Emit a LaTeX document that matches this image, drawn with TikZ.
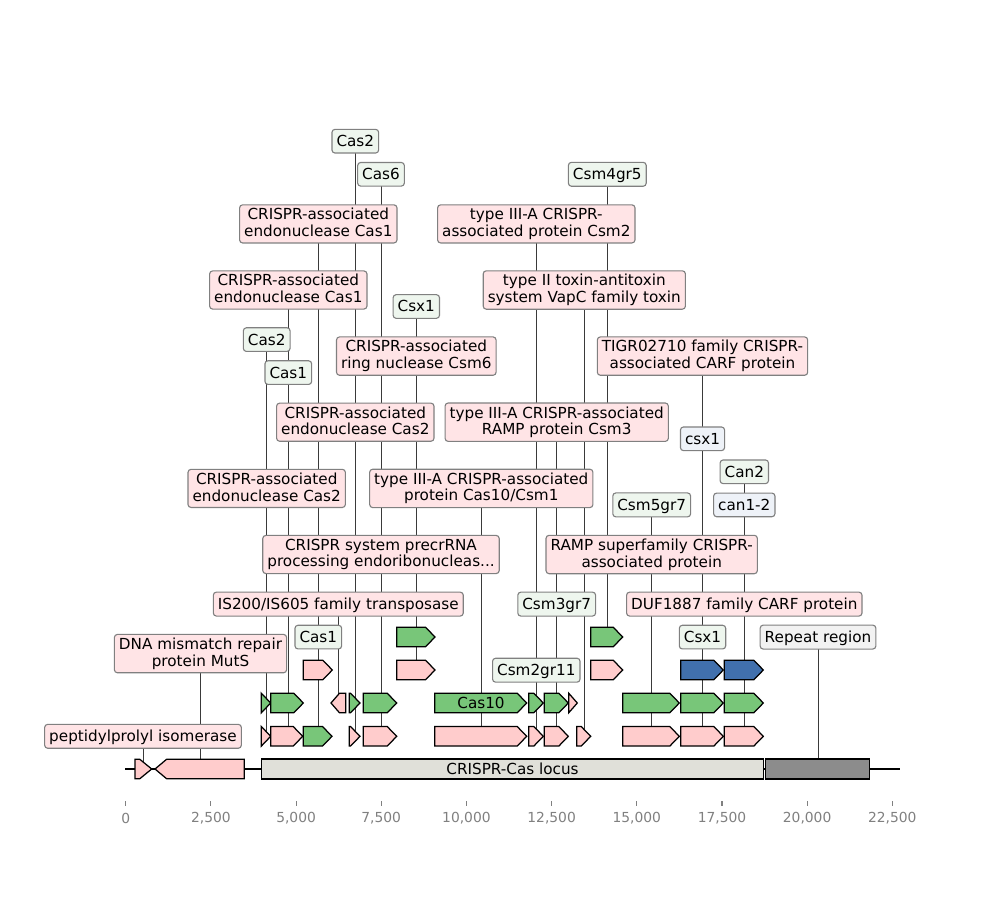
\documentclass[tikz,border=0pt]{standalone}
\usepackage{fontspec}
\setmainfont{DejaVu Sans}
\definecolor{fpink}{HTML}{FFCCCC}
\definecolor{fgreen}{HTML}{78C679}
\definecolor{fblue}{HTML}{4170AD}
\definecolor{locusgray}{HTML}{E0E0D9}
\definecolor{repgray}{HTML}{8C8C8C}
\definecolor{lpink}{HTML}{FFE4E6}
\definecolor{lgreen}{HTML}{EEF6EE}
\definecolor{lblue}{HTML}{EEF2F8}
\definecolor{lgray}{HTML}{F2F2F2}
\definecolor{lborder}{HTML}{808080}
\definecolor{conncol}{HTML}{3A3A3A}
\definecolor{tickcol}{HTML}{808080}
\pgfdeclarelayer{bglayer}
\pgfdeclarelayer{connlayer}
\pgfsetlayers{bglayer,connlayer,main}
\newcommand\lblstrut{\rule[-2.1pt]{0pt}{12.1pt}}
\tikzset{
  feat/.style={draw=black, line width=0.9pt, line join=miter},
  lbl/.style={draw=lborder, line width=0.8pt, rounded corners=2.2pt, inner xsep=3.3pt, inner ysep=2.5pt,
    align=center, font=\fontsize{11}{12.1}\selectfont, execute at begin node=\lblstrut, execute at end node=\lblstrut},
  lp/.style={lbl, fill=lpink},
  lg/.style={lbl, fill=lgreen},
  lb/.style={lbl, fill=lblue},
  lr/.style={lbl, fill=lgray},
  connline/.style={draw=conncol, line width=0.6pt},
  inlbl/.style={font=\fontsize{11}{12.1}\selectfont, inner sep=0pt},
}
\newcommand\featR[6]{%
  \pgfmathsetmacro\hx{max(#2,#3-#6)}%
  \draw[feat, fill=#5] (#2,#4-9.8) -- (\hx,#4-9.8) -- (#3,#4) -- (\hx,#4+9.8) -- (#2,#4+9.8) -- cycle;
  \coordinate (#1) at ({(#2+#3)/2},#4);
}
\newcommand\featL[6]{%
  \pgfmathsetmacro\hx{min(#3,#2+#6)}%
  \draw[feat, fill=#5] (#3,#4-9.8) -- (\hx,#4-9.8) -- (#2,#4) -- (\hx,#4+9.8) -- (#3,#4+9.8) -- cycle;
  \coordinate (#1) at ({(#2+#3)/2},#4);
}
\newcommand\joinlbl[2]{\draw[connline] (#1.center) -- (#1.center |- #2);}
\begin{document}
\begin{tikzpicture}[x=0.7227pt, y=-0.7227pt]
\begin{pgfonlayer}{bglayer}
\fill[white] (0,0) rectangle (1000,900);
\end{pgfonlayer}
\useasboundingbox (0,0) rectangle (1000,900);

% locus line
\coordinate (lineL) at (125,769);
\coordinate (lineR) at (900,769);
\draw[black, line width=1.4pt] (lineL) -- (lineR);

% bottom features
\featR{e1}{135}{151.7}{769}{fpink}{12}
\featL{e2}{155}{244.3}{769}{fpink}{11.7}
\draw[feat, fill=locusgray] (261.3,759) rectangle (763.7,779);
\coordinate (locus) at (512.5,769);
\node[inlbl] (locuslbl) at (locus) {CRISPR-Cas locus};
\draw[feat, fill=repgray] (765.7,759) rectangle (869.3,779);
\coordinate (rep) at (817.5,769);

% row 1
\featR{a1}{261.3}{270.7}{736.3}{fpink}{9.5}
\featR{a2}{270.7}{302.7}{736.3}{fpink}{9.5}
\featR{a3}{303.3}{332}{736.3}{fgreen}{9.5}
\featR{a4}{349.3}{360}{736.3}{fpink}{9.5}
\featR{a5}{363.3}{396.7}{736.3}{fpink}{9.5}
\featR{a6}{434.7}{526.7}{736.3}{fpink}{9.5}
\featR{a7}{528.7}{543.3}{736.3}{fpink}{9.5}
\featR{a8}{544.3}{568.3}{736.3}{fpink}{9.5}
\featR{a9}{576.7}{590.7}{736.3}{fpink}{9.5}
\featR{a10}{622.7}{679.3}{736.3}{fpink}{9.5}
\featR{a11}{680.7}{723.3}{736.3}{fpink}{9.5}
\featR{a12}{724.3}{763.3}{736.3}{fpink}{9.5}
% row 2
\featR{b1}{261.3}{270.7}{703}{fgreen}{9.5}
\featR{b2}{270.7}{303.3}{703}{fgreen}{9.5}
\featL{b3}{331}{345.7}{703}{fpink}{8.5}
\featR{b4}{349.3}{360}{703}{fgreen}{9.5}
\featR{b5}{363.3}{396.7}{703}{fgreen}{9.5}
\featR{b6}{434.7}{526.7}{703}{fgreen}{9.5}
\node[inlbl] (cas10) at (481,703) {Cas10};
\featR{b7}{528.7}{543.3}{703}{fgreen}{9.5}
\featR{b8}{544.3}{568.3}{703}{fgreen}{9.5}
\featR{b9}{568.7}{577.3}{703}{fpink}{9.5}
\featR{b10}{622.7}{679.3}{703}{fgreen}{9.5}
\featR{b11}{680.7}{723.3}{703}{fgreen}{9.5}
\featR{b12}{724.3}{763.3}{703}{fgreen}{9.5}
% row 3
\featR{c1}{303.3}{332.3}{670}{fpink}{9.5}
\featR{c2}{396.7}{435}{670}{fpink}{9.5}
\featR{c3}{590.7}{622.7}{670}{fpink}{9.5}
\featR{c4}{680.7}{723.3}{670}{fblue}{9.5}
\featR{c5}{724.3}{763.3}{670}{fblue}{9.5}
% row 4
\featR{d1}{396.7}{435}{637}{fgreen}{9.5}
\featR{d2}{590.7}{622.7}{637}{fgreen}{9.5}

% labels
\node[lp] (L1) at (318.3,223.9) {CRISPR-associated\\endonuclease Cas1};
\node[lp] (L2) at (536.3,223.9) {type III-A CRISPR-\\associated protein Csm2};
\node[lp] (L3) at (288.3,290.0) {CRISPR-associated\\endonuclease Cas1};
\node[lp] (L4) at (584.3,290.0) {type II toxin-antitoxin\\system VapC family toxin};
\node[lp] (L5) at (416.3,356.1) {CRISPR-associated\\ring nuclease Csm6};
\node[lp] (L6) at (702.5,356.1) {TIGR02710 family CRISPR-\\associated CARF protein};
\node[lp] (L7) at (355.3,422.2) {CRISPR-associated\\endonuclease Cas2};
\node[lp] (L8) at (556.7,422.2) {type III-A CRISPR-associated\\RAMP protein Csm3};
\node[lp] (L9) at (266.7,488.4) {CRISPR-associated\\endonuclease Cas2};
\node[lp] (L10) at (481.3,488.4) {type III-A CRISPR-associated\\protein Cas10/Csm1};
\node[lp] (L11) at (381,554.5) {CRISPR system precrRNA\\processing endoribonucleas...};
\node[lp] (L12) at (651.7,554.5) {RAMP superfamily CRISPR-\\associated protein};
\node[lp] (L13) at (338.3,604.1) {IS200/IS605 family transposase};
\node[lp] (L14) at (744.3,604.1) {DUF1887 family CARF protein};
\node[lp] (L15) at (200.5,653.6) {DNA mismatch repair\\protein MutS};
\node[lp] (L16) at (143,736.3) {peptidylprolyl isomerase};

\node[lg] (G1) at (355.3,141.2) {Cas2};
\node[lg] (G2) at (381,174.3) {Cas6};
\node[lg] (G3) at (607.3,174.3) {Csm4gr5};
\node[lg] (G4) at (416.3,306.5) {Csx1};
\node[lg] (G5) at (266.7,339.6) {Cas2};
\node[lg] (G6) at (288.3,372.6) {Cas1};
\node[lg] (G7) at (744.3,471.8) {Can2};
\node[lg] (G8) at (651.7,504.9) {Csm5gr7};
\node[lg] (G9) at (556.7,604.1) {Csm3gr7};
\node[lg] (G10) at (318.3,637.1) {Cas1};
\node[lg] (G11) at (702.5,637.1) {Csx1};
\node[lg] (G12) at (536.3,670.2) {Csm2gr11};

\node[lb] (B1) at (702.5,438.8) {csx1};
\node[lb] (B2) at (744.3,504.9) {can1-2};

\node[lr] (R1) at (818,637.1) {Repeat region};

% connectors (behind)
\begin{pgfonlayer}{connlayer}
\joinlbl{L1}{c1}
\joinlbl{L2}{a7}
\joinlbl{L3}{a2}
\joinlbl{L4}{a9}
\joinlbl{L5}{c2}
\joinlbl{L6}{a11}
\joinlbl{L7}{a4}
\joinlbl{L8}{a8}
\joinlbl{L9}{a1}
\joinlbl{L10}{a6}
\joinlbl{L11}{a5}
\joinlbl{L12}{a10}
\joinlbl{L13}{b3}
\joinlbl{L14}{a12}
\joinlbl{L15}{e2}
\joinlbl{L16}{e1}
\joinlbl{G1}{b4}
\joinlbl{G2}{b5}
\joinlbl{G3}{d2}
\joinlbl{G4}{d1}
\joinlbl{G5}{b1}
\joinlbl{G6}{b2}
\joinlbl{G7}{b12}
\joinlbl{G8}{b10}
\joinlbl{G9}{b8}
\joinlbl{G10}{a3}
\joinlbl{G11}{b11}
\joinlbl{G12}{b7}
\joinlbl{B1}{c4}
\joinlbl{B2}{c5}
\joinlbl{R1}{rep}
\end{pgfonlayer}

% axis ticks
\foreach \i/\t in {0/0,1/{2,500},2/{5,000},3/{7,500},4/{10,000},5/{12,500},6/{15,000},7/{17,500},8/{20,000},9/{22,500}}{
  \draw[tickcol, line width=0.8pt] ({125.7+85.18*\i},801) -- ({125.7+85.18*\i},805.5);
  \node[text=tickcol, font=\fontsize{10}{12}\selectfont, inner sep=0pt] (tk\i) at ({125.7+85.18*\i},818) {\t};
}
\end{tikzpicture}
\end{document}
